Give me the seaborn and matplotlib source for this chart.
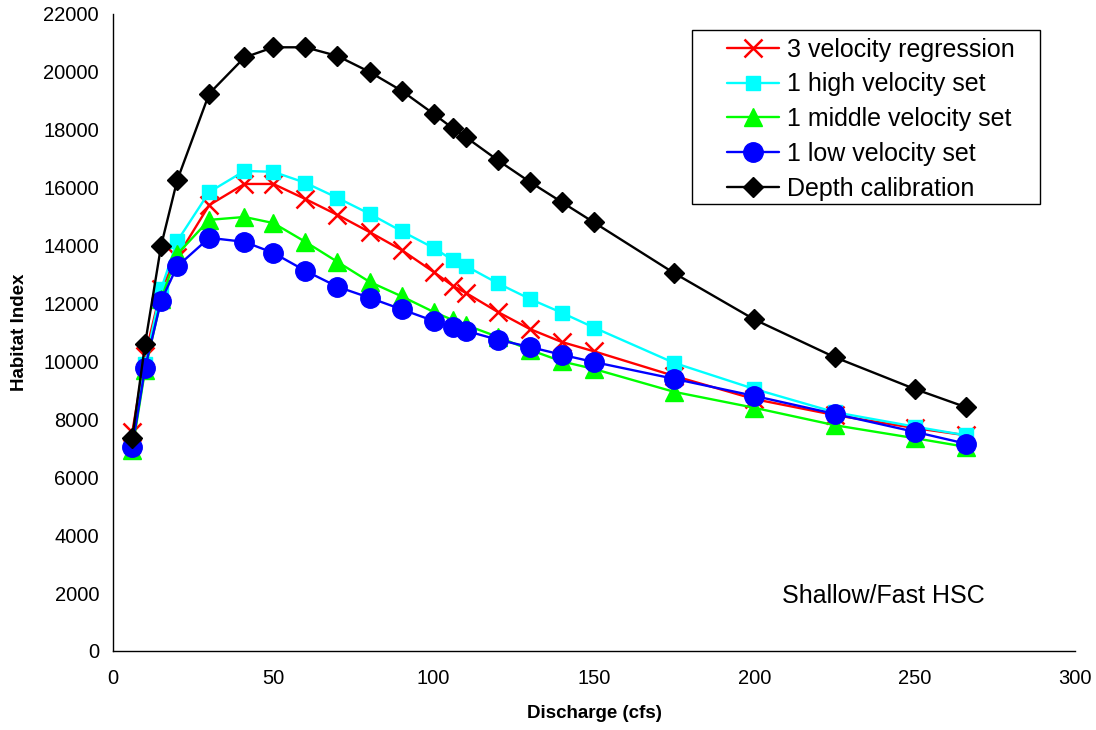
import matplotlib
matplotlib.use("Agg")
import matplotlib.pyplot as plt
import seaborn as sns
import pandas as pd
from matplotlib.patches import Rectangle

discharge = [6, 10, 15, 20, 30, 41, 50, 60, 70, 80, 90, 100, 106, 110,
             120, 130, 140, 150, 175, 200, 225, 250, 266]

regression3 = [7550, 10200, 12500, 13600, 15400, 16130, 16130, 15610, 15060, 14470, 13850, 13090,
               12610, 12370, 11710, 11120, 10670, 10350, 9500, 8700, 8150, 7700, 7450]
high_set = [7100, 9900, 12500, 14150, 15850, 16580, 16550, 16170, 15650, 15100, 14500, 13920,
            13500, 13300, 12700, 12160, 11680, 11170, 9950, 9050, 8250, 7750, 7450]
middle_set = [6950, 9700, 12150, 13700, 14890, 14990, 14780, 14130, 13440, 12750, 12250, 11710,
              11430, 11260, 10850, 10400, 10000, 9740, 8950, 8400, 7800, 7350, 7050]
low_set = [7050, 9780, 12100, 13280, 14270, 14130, 13750, 13130, 12580, 12200, 11800, 11400,
           11190, 11060, 10750, 10500, 10230, 9980, 9400, 8810, 8190, 7570, 7160]
depth_cal = [7350, 10600, 14000, 16250, 19250, 20500, 20850, 20850, 20550, 20000, 19350, 18550,
             18050, 17750, 16950, 16200, 15500, 14800, 13050, 11450, 10150, 9050, 8420]

series_names = ["3 velocity regression", "1 high velocity set", "1 middle velocity set",
                "1 low velocity set", "Depth calibration"]
series_values = [regression3, high_set, middle_set, low_set, depth_cal]

x_ticks = [0, 50, 100, 150, 200, 250, 300]
y_ticks = list(range(0, 22001, 2000))

styles = [
    dict(color="#ff0000", marker="x", markersize=13, markeredgewidth=1.8),
    dict(color="#00ffff", marker="s", markersize=10, markeredgewidth=1),
    dict(color="#00ff00", marker="^", markersize=12.5, markeredgewidth=1),
    dict(color="#0000ff", marker="o", markersize=14, markeredgewidth=1),
    dict(color="#000000", marker="D", markersize=10, markeredgewidth=1),
]

sns.set_theme(style="white")
plt.rcParams["font.family"] = ["Liberation Sans", "DejaVu Sans"]
plt.rcParams["text.color"] = "black"

fig = plt.figure(figsize=(10.96, 7.30), dpi=100)
ax = fig.add_axes([113 / 1096, 1 - 651 / 730, 962 / 1096, 637 / 730])

for name, vals, st in zip(series_names, series_values, styles):
    df = pd.DataFrame({"Discharge": discharge, "Habitat": vals})
    sns.lineplot(data=df, x="Discharge", y="Habitat", ax=ax, label=name,
                 color=st["color"], marker=st["marker"], markersize=st["markersize"],
                 markeredgewidth=st["markeredgewidth"], markeredgecolor=st["color"],
                 markerfacecolor=st["color"], linewidth=1.7, clip_on=False)

ax.set_xlim(0, 300)
ax.set_ylim(0, 22000)
ax.set_xticks(x_ticks)
ax.set_yticks(y_ticks)
ax.set_xticklabels([str(t) for t in x_ticks])
ax.set_yticklabels([str(t) for t in y_ticks])

for s in ["top", "right"]:
    ax.spines[s].set_visible(False)
for s in ["left", "bottom"]:
    ax.spines[s].set_color("black")
    ax.spines[s].set_linewidth(1.0)

ax.tick_params(axis="both", which="major", direction="out", length=5, width=1,
               color="#444444", labelsize=14.5, labelcolor="black")
ax.tick_params(axis="y", pad=5)
ax.tick_params(axis="x", pad=8)

ax.set_xlabel("Discharge (cfs)", fontsize=13.5, fontweight="bold", color="black")
ax.set_ylabel("Habitat Index", fontsize=13.5, fontweight="bold", color="black")
ax.xaxis.set_label_coords(0.5, -0.085)
ax.yaxis.set_label_coords(-0.088, 0.5)

ax.text(208.6, 1660, "Shallow/Fast HSC", fontsize=18, color="black", va="baseline", ha="left")

# legend box
ax.add_patch(Rectangle((0.602, 0.7017), 0.3618, 0.2731, transform=ax.transAxes,
                       facecolor="white", edgecolor="black", linewidth=1.0, zorder=4))
leg = ax.legend(loc="upper left", bbox_to_anchor=(0.638, 0.963), frameon=False,
                fontsize=18, handlelength=2.1, handletextpad=0.3, labelspacing=0.43,
                borderpad=0, borderaxespad=0, labelcolor="black")
leg.set_zorder(5)

fig.savefig("out.png", dpi=100)
